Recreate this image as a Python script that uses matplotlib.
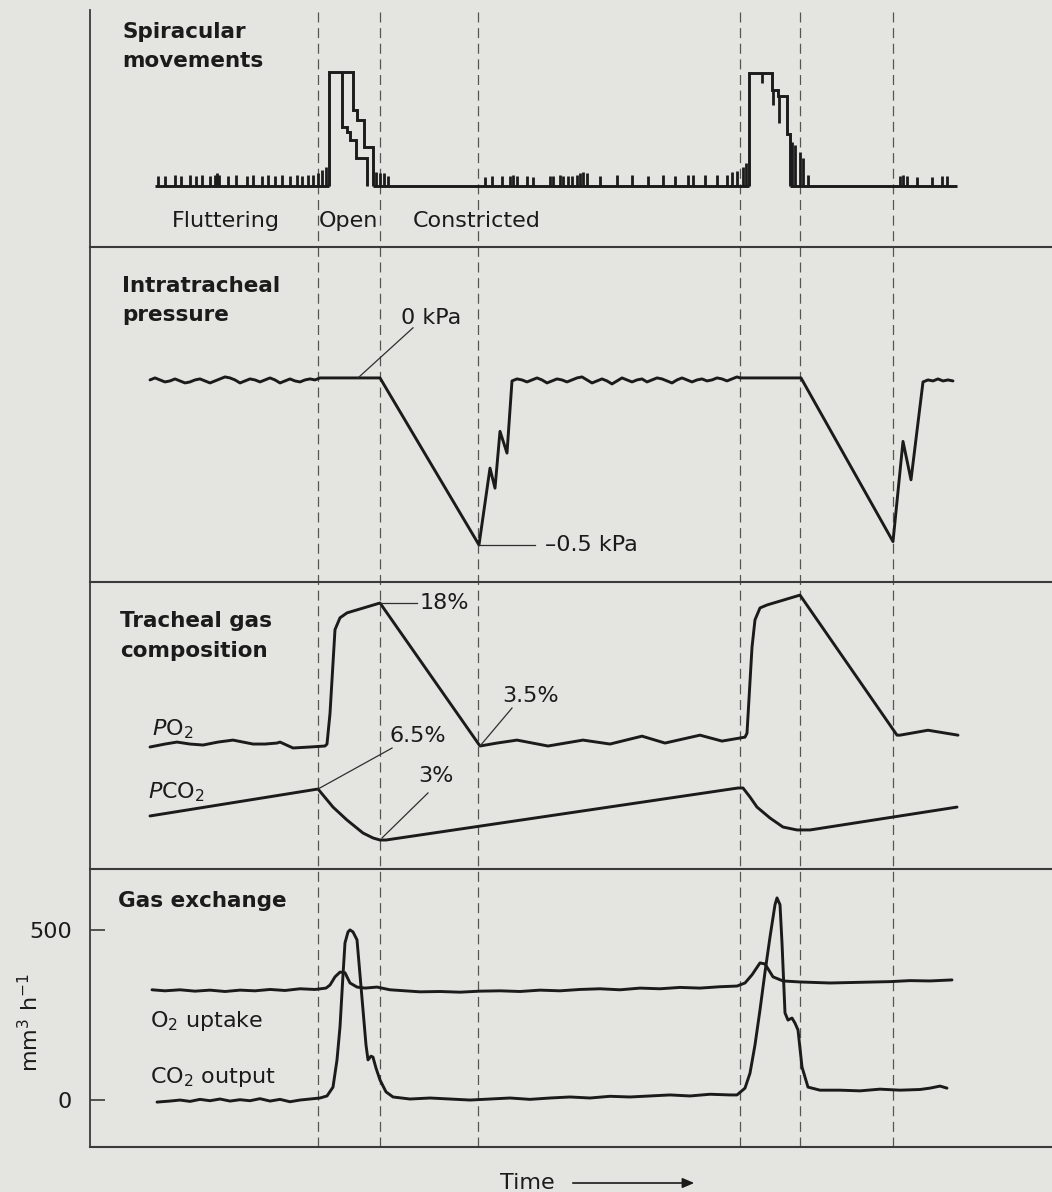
import numpy as np
import matplotlib
matplotlib.use("Agg")
import matplotlib.pyplot as plt

W, H = 1052, 1192
BG = "#e4e4e0"
INK = "#1b1b1b"
RULE = "#3a3a3a"

plt.rcParams["font.family"] = ["DejaVu Sans"]
plt.rcParams["mathtext.fontset"] = "dejavusans"

# ---------------- shared time axis (arbitrary units) ----------------
t_max = 96.2
events = [22.8, 29.0, 38.8, 65.0, 71.0, 80.3]

# ---------------- spiracular movements (0 = closed, 1 = fully open) ----------------
baseline_segments = [(6.5, 23.9), (28.3, 65.9), (70.0, 86.7)]
flutter1_t = [6.8, 7.5, 8.5, 9.1, 10.0, 10.6, 11.2, 12.0, 12.5, 12.7,
              12.9, 13.8, 14.6, 15.7, 16.3, 17.2, 17.8, 18.5, 19.2, 20.0,
              20.7, 21.2, 21.8, 22.3, 22.8, 23.2, 23.6]
flutter1_h = [0.09, 0.09, 0.10, 0.09, 0.10, 0.09, 0.10, 0.09, 0.10, 0.11,
              0.10, 0.09, 0.10, 0.09, 0.10, 0.09, 0.10, 0.09, 0.10, 0.09,
              0.10, 0.09, 0.10, 0.10, 0.11, 0.14, 0.17]
tail1_t = [28.6, 29.0, 29.4, 29.8]
tail1_h = [0.12, 0.11, 0.11, 0.09]
flutter2_t = [39.5, 40.2, 41.2, 42.0, 42.3, 42.7, 43.7, 44.3, 46.0, 46.3,
              47.0, 47.3, 47.8, 48.2, 48.7, 49.0, 49.3, 49.7, 51.0, 52.7,
              54.2, 55.8, 57.3, 58.5, 59.8, 60.3, 61.5, 62.7, 63.7, 64.2,
              64.7, 65.3, 65.6]
flutter2_h = [0.08, 0.09, 0.09, 0.09, 0.10, 0.09, 0.09, 0.08, 0.09, 0.09,
              0.10, 0.09, 0.09, 0.09, 0.10, 0.11, 0.12, 0.11, 0.09, 0.10,
              0.10, 0.09, 0.10, 0.09, 0.10, 0.10, 0.10, 0.10, 0.10, 0.12,
              0.13, 0.17, 0.20]
tail2_t = [70.2, 70.5, 71.0, 71.3, 71.8]
tail2_h = [0.39, 0.36, 0.30, 0.25, 0.10]
flutter3_t = [81.0, 81.3, 81.7, 82.7, 84.2, 85.2, 85.7]
flutter3_h = [0.09, 0.10, 0.09, 0.08, 0.08, 0.09, 0.09]

burst1_t = [23.9, 23.9, 26.3, 26.3, 26.7, 26.7, 27.4, 27.4, 28.3, 28.3]
burst1_u = [0.0, 1.0, 1.0, 0.67, 0.67, 0.58, 0.58, 0.34, 0.34, 0.0]
burst1_inner_t = [25.2, 25.2, 25.7, 25.7, 26.0, 26.0, 26.6, 26.6, 27.7, 27.7]
burst1_inner_u = [1.0, 0.52, 0.52, 0.47, 0.47, 0.40, 0.40, 0.25, 0.25, 0.0]
burst2_t = [65.9, 65.9, 68.2, 68.2, 68.8, 68.8, 69.7, 69.7, 70.0, 70.0]
burst2_u = [0.0, 0.99, 0.99, 0.84, 0.84, 0.79, 0.79, 0.46, 0.46, 0.0]
burst2_inner_t = [67.2, 68.3, 68.9]
burst2_inner_lo = [0.90, 0.71, 0.55]
burst2_inner_hi = [0.99, 0.84, 0.79]

# ---------------- intratracheal pressure (kPa) ----------------
pA_start, pA_step = 6.0, 0.5
pA = [-0.006, 0.000, -0.006, -0.012, -0.009, -0.003, -0.009, -0.015, -0.012, -0.006,
      -0.003, -0.009, -0.015, -0.009, -0.003, 0.003, 0.000, -0.006, -0.015, -0.009,
      -0.003, -0.006, -0.012, -0.006, 0.000, -0.006, -0.015, -0.009, -0.003, -0.009,
      -0.012, -0.006, -0.003, -0.006, 0.000]
cycle1_t = [29.0, 38.9, 40.0, 40.5, 41.0, 41.7]
cycle1_p = [0.0, -0.50, -0.27, -0.33, -0.16, -0.225]
pB_start, pB_step = 42.2, 0.5
pB = [-0.009, -0.003, -0.006, -0.012, -0.006, 0.000, -0.006, -0.015, -0.009, -0.003,
      -0.006, -0.012, -0.006, 0.000, 0.003, -0.006, -0.015, -0.009, -0.003, -0.009,
      -0.018, -0.009, 0.000, -0.006, -0.012, -0.006, -0.003, -0.012, -0.006, 0.000,
      -0.003, -0.009, -0.015, -0.006, 0.000, -0.006, -0.012, -0.006, -0.003, -0.009,
      -0.006, 0.000, -0.003, -0.009, -0.003, 0.003]
cycle2_t = [65.0, 71.1, 80.3, 81.3, 82.1]
cycle2_p = [0.0, 0.0, -0.49, -0.19, -0.305]
pC_start, pC_step = 83.3, 0.5
pC = [-0.012, -0.006, -0.009, -0.003, -0.009, -0.006, -0.009]

# ---------------- tracheal gas composition (%) ----------------
po2_t = [6.0, 7.5, 8.7, 10.0, 11.3, 12.8, 14.3, 15.3, 16.3, 17.5, 18.7, 19.0, 20.3,
         22.0, 23.5, 23.7, 24.0, 24.5, 25.0, 25.7, 29.0, 39.0, 40.7, 42.7, 45.8,
         49.3, 52.0, 55.2, 57.5, 61.0, 63.2, 65.5, 65.7, 66.2, 66.5, 67.0, 67.7,
         71.0, 80.7, 81.0, 83.8, 86.8]
po2_v = [3.4, 3.7, 3.9, 3.7, 3.6, 3.9, 4.1, 3.9, 3.7, 3.7, 3.8, 3.9, 3.3,
         3.4, 3.5, 3.7, 6.8, 15.3, 16.5, 17.0, 18.0, 3.5, 3.8, 4.1, 3.5,
         4.1, 3.7, 4.5, 3.8, 4.6, 4.0, 4.4, 4.8, 13.5, 16.3, 17.5, 17.8,
         18.8, 4.6, 4.6, 5.1, 4.6]
pco2_t = [6.0, 22.8, 24.3, 25.7, 27.3, 28.3, 29.0, 29.6, 64.8, 65.3, 66.0,
          66.7, 68.0, 69.3, 70.7, 72.0, 86.7]
pco2_v = [4.65, 6.5, 5.26, 4.37, 3.48, 3.14, 3.0, 3.0, 6.57, 6.57, 5.95,
          5.26, 4.51, 3.89, 3.69, 3.69, 5.26]

# ---------------- gas exchange (mm^3 h^-1) ----------------
o2_t = [6.2, 7.5, 9.0, 10.5, 12.0, 13.5, 15.0, 16.5, 18.0, 19.5, 21.0, 22.5, 23.6,
        24.0, 24.5, 25.0, 25.5, 26.0, 26.7, 27.5, 28.7, 30.0, 31.5, 33.0, 35.0,
        37.0, 39.0, 41.0, 43.0, 45.0, 47.0, 49.0, 51.0, 53.0, 55.0, 57.0, 59.0,
        61.0, 63.0, 64.7, 65.5, 66.2, 67.0, 67.5, 68.3, 69.3, 71.0, 74.0, 77.0,
        80.0, 82.0, 84.0, 86.2]
o2_v = [324, 321, 324, 320, 323, 319, 323, 321, 325, 322, 327, 325, 329,
        338, 362, 376, 374, 344, 332, 329, 332, 324, 321, 318, 319,
        317, 320, 321, 319, 323, 321, 325, 327, 324, 329, 327, 331,
        329, 333, 335, 344, 368, 403, 400, 362, 350, 347, 344, 346,
        348, 351, 350, 353]
co2_t = [6.7, 8.0, 9.0, 10.0, 11.0, 12.0, 13.0, 14.0, 15.0, 16.0, 17.0, 18.0,
         19.0, 20.0, 21.0, 22.0, 23.0, 23.7, 24.3, 24.7, 25.0, 25.3, 25.5, 25.8,
         26.0, 26.3, 26.7, 27.0, 27.3, 27.6, 27.8, 28.1, 28.3, 28.6, 29.0, 29.6,
         30.3, 32.0, 34.0, 36.0, 38.0, 40.0, 42.0, 44.0, 46.0, 48.0, 50.0, 52.0,
         54.0, 56.0, 58.0, 60.0, 62.0, 64.0, 64.7, 65.5, 66.0, 66.5, 67.0, 67.5,
         68.0, 68.5, 68.7, 69.0, 69.2, 69.5, 69.8, 70.2, 70.5, 70.8, 71.2, 71.8,
         73.0, 75.0, 77.0, 79.0, 81.0, 83.0, 84.0, 85.0, 85.7]
co2_v = [-6, -3, 0, -4, 2, -2, 3, -3, 1, -2, 4, -3,
         2, -5, 0, 3, 6, 12, 38, 118, 215, 368, 462, 494,
         500, 494, 471, 368, 265, 162, 118, 129, 126, 94, 59, 24,
         9, 3, 6, 3, 0, 3, 6, 2, 6, 9, 6, 11,
         9, 12, 15, 12, 17, 15, 15, 35, 79, 162, 265, 376,
         479, 574, 594, 574, 462, 256, 235, 241, 226, 206, 97, 38,
         29, 29, 27, 32, 29, 31, 35, 41, 35]
gas_ticks = [0, 500]


def box(top, bottom, left=90, right=W):
    """Axes rectangle from pixel edges (origin at the top-left corner)."""
    return [left / W, 1 - bottom / H, (right - left) / W, (bottom - top) / H]


def ftext(px, py, s, **kw):
    kw.setdefault("color", INK)
    return fig.text(px / W, 1 - py / H, s, **kw)


fig = plt.figure(figsize=(W / 100, H / 100), dpi=100, facecolor=BG)

# dashed event markers spanning all four panels
guide = fig.add_axes(box(10, 1147))
guide.set_xlim(0, t_max)
guide.set_ylim(0, 1)
guide.set_axis_off()
for t in events:
    guide.axvline(t, color="#555555", lw=0.9, ls=(0, (8, 4.5)))


def panel(top, bottom, ylim):
    ax = fig.add_axes(box(top, bottom))
    ax.set_facecolor("none")
    ax.set_xlim(0, t_max)
    ax.set_ylim(*ylim)
    for side in ("top", "right"):
        ax.spines[side].set_visible(False)
    ax.spines["left"].set_linewidth(1.3)
    ax.spines["bottom"].set_linewidth(1.5)
    ax.spines["left"].set_color(RULE)
    ax.spines["bottom"].set_color(RULE)
    ax.set_xticks([])
    ax.set_yticks([])
    return ax


STEP = dict(color=INK, lw=2.1, solid_joinstyle="miter", solid_capstyle="butt")
TR = dict(color=INK, lw=2.1, solid_joinstyle="round", solid_capstyle="round")
LEAD = dict(color="#2e2e2e", lw=0.9)
FS = 16
FT = 15.5

# ---------------- panel 1: spiracular movements ----------------
ax1 = panel(10, 247, (-0.535, 1.544))
for a, b in baseline_segments:
    ax1.plot([a, b], [0, 0], **STEP)
for tt, hh in ((flutter1_t, flutter1_h), (tail1_t, tail1_h), (flutter2_t, flutter2_h),
               (tail2_t, tail2_h), (flutter3_t, flutter3_h)):
    ax1.vlines(tt, 0, hh, color=INK, lw=2.0)
ax1.plot(burst1_t, burst1_u, **STEP)
ax1.plot(burst1_inner_t, burst1_inner_u, **STEP)
ax1.plot(burst2_t, burst2_u, **STEP)
ax1.vlines(burst2_inner_t, burst2_inner_lo, burst2_inner_hi, color=INK, lw=2.0)

ftext(122, 38, "Spiracular", fontsize=FT, fontweight="bold", va="baseline")
ftext(122, 67, "movements", fontsize=FT, fontweight="bold", va="baseline")
ftext(172, 227, "Fluttering", fontsize=FS, va="baseline")
ftext(319, 227, "Open", fontsize=FS, va="baseline")
ftext(413, 227, "Constricted", fontsize=FS, va="baseline")

# ---------------- panel 2: intratracheal pressure ----------------
ax2 = panel(247, 582, (-0.611, 0.392))
p_t = np.concatenate([pA_start + pA_step * np.arange(len(pA)), cycle1_t,
                      pB_start + pB_step * np.arange(len(pB)), cycle2_t,
                      pC_start + pC_step * np.arange(len(pC))])
p_v = np.concatenate([pA, cycle1_p, pB, cycle2_p, pC])
ax2.plot(p_t, p_v, **TR)
ax2.plot([26.8, 32.3], [0.0, 0.15], **LEAD)
ax2.text(31.1, 0.162, "0 kPa", fontsize=FS, color=INK, va="baseline")
ax2.plot([38.9, 44.5], [-0.5, -0.5], **LEAD)
ax2.text(45.5, -0.5, "\u20130.5 kPa", fontsize=FS, color=INK, va="center")

ftext(122, 292, "Intratracheal", fontsize=FT, fontweight="bold", va="baseline")
ftext(122, 321, "pressure", fontsize=FT, fontweight="bold", va="baseline")

# ---------------- panel 3: tracheal gas composition ----------------
ax3 = panel(582, 869, (-8.97, 20.13))
ax3.plot(po2_t, po2_v, **TR)
ax3b = ax3.twinx()
ax3b.set_ylim(1.01, 20.71)
ax3b.set_axis_off()
ax3b.plot(pco2_t, pco2_v, **TR)

ax3.plot([29.0, 32.7], [18.0, 18.0], **LEAD)
ax3.text(33.0, 18.0, "18%", fontsize=FS, color=INK, va="center")
ax3.plot([39.0, 42.2], [3.5, 7.35], **LEAD)
ax3.text(41.2, 7.96, "3.5%", fontsize=FS, color=INK, va="baseline")
ax3b.plot([22.8, 30.2], [6.5, 9.31], **LEAD)
ax3b.text(30.0, 9.73, "6.5%", fontsize=FS, color=INK, va="baseline")
ax3b.plot([29.2, 33.8], [3.14, 6.23], **LEAD)
ax3b.text(32.8, 6.98, "3%", fontsize=FS, color=INK, va="baseline")

ftext(120, 627, "Tracheal gas", fontsize=FT, fontweight="bold", va="baseline")
ftext(120, 657, "composition", fontsize=FT, fontweight="bold", va="baseline")
ftext(152, 735, r"$\mathit{P}\mathrm{O_2}$", fontsize=FS, va="baseline")
ftext(148, 798, r"$\mathit{P}\mathrm{CO_2}$", fontsize=FS, va="baseline")

# ---------------- panel 4: gas exchange ----------------
ax4 = panel(869, 1147, (-138, 679))
ax4.plot(o2_t, o2_v, **TR)
ax4.plot(co2_t, co2_v, **TR)
ax4.set_yticks(gas_ticks)
ax4.set_yticklabels([str(v) for v in gas_ticks])
ax4.tick_params(axis="y", direction="in", length=10.8, width=1.2, color=RULE,
                pad=13, labelsize=FS, labelcolor=INK)
ftext(118, 907, "Gas exchange", fontsize=FT, fontweight="bold", va="baseline")
ftext(150, 1027, r"O$_2$ uptake", fontsize=FS, va="baseline")
ftext(150, 1083, r"CO$_2$ output", fontsize=FS, va="baseline")
ftext(30, 1023, r"mm$^3$ h$^{-1}$", fontsize=FS, rotation=90, ha="center", va="center")

# time arrow under the record
ftext(500, 1189, "Time", fontsize=FS, va="baseline")
fig.add_artist(matplotlib.patches.FancyArrowPatch(
    (570 / W, 1 - 1183 / H), (697 / W, 1 - 1183 / H), transform=fig.transFigure,
    arrowstyle="-|>,head_length=7,head_width=3", color=INK, lw=1.2, mutation_scale=1))

fig.savefig("out.png", dpi=100, facecolor=BG)
